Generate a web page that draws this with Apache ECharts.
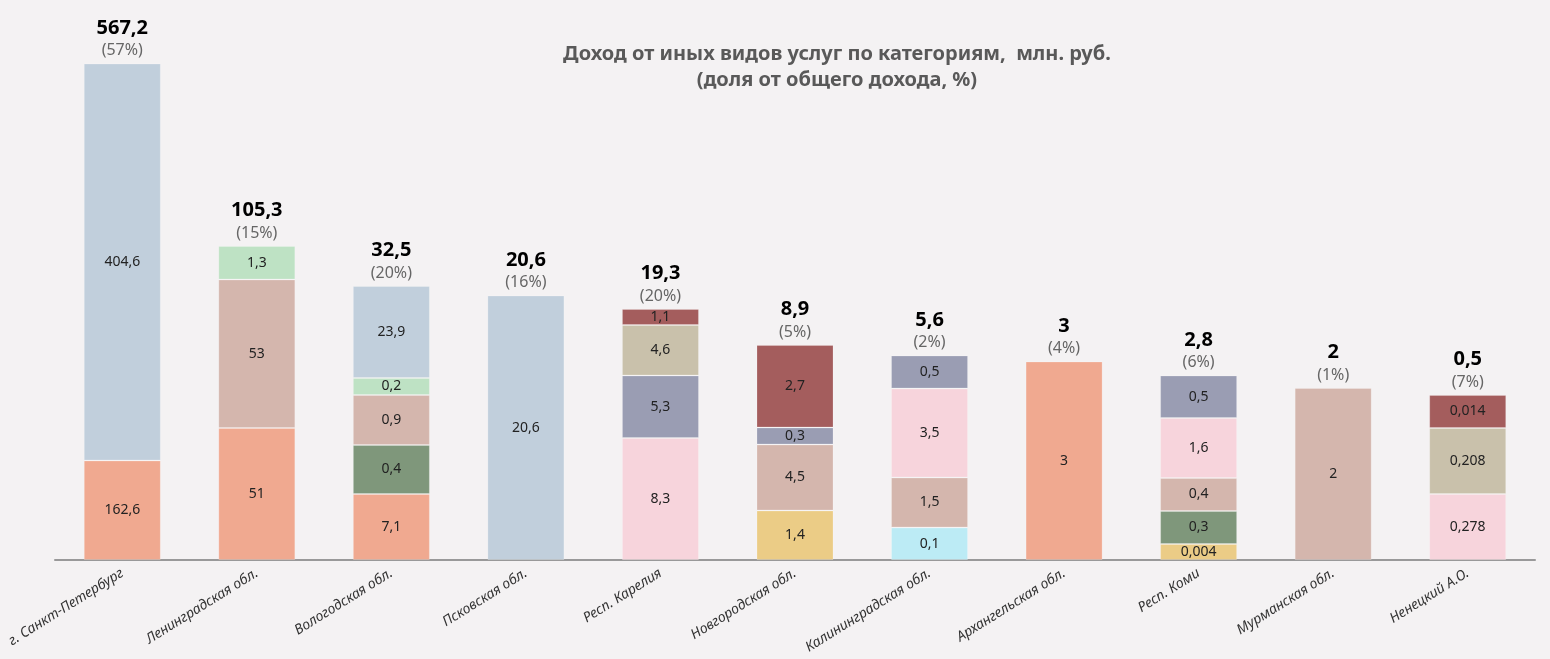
<!DOCTYPE html>
<html>
<head>
<meta charset="utf-8">
<script src="https://cdn.jsdelivr.net/npm/echarts@6/dist/echarts.min.js"></script>
<style>
  html, body { margin: 0; padding: 0; background: #f4f2f3; }
  #main { width: 1550px; height: 659px; }
</style>
</head>
<body>
<div id="main"></div>
<script>
// регионы
var regions = ['г. Санкт-Петербург', 'Ленинградская обл.', 'Вологодская обл.', 'Псковская обл.', 'Респ. Карелия',
  'Новгородская обл.', 'Калининградская обл.', 'Архангельская обл.', 'Респ. Коми', 'Мурманская обл.', 'Ненецкий А.О.'];
// итог, млн. руб. и доля от общего дохода, %
var totals = [567.2, 105.3, 32.5, 20.6, 19.3, 8.9, 5.6, 3, 2.8, 2, 0.5];
var shares = [57, 15, 20, 16, 20, 5, 2, 4, 6, 1, 7];

// подписи сегментов (млн. руб.), снизу вверх
var valYellow   = [null, null, null, null, null, 1.4, null, null, 0.004, null, null];
var valCyan     = [null, null, null, null, null, null, 0.1, null, null, null, null];
var valSalmon   = [162.6, 51, 7.1, null, null, null, null, 3, null, null, null];
var valDkGreen  = [null, null, 0.4, null, null, null, null, null, 0.3, null, null];
var valBeige    = [null, 53, 0.9, null, null, 4.5, 1.5, null, 0.4, 2, null];
var valPink     = [null, null, null, null, 8.3, null, 3.5, null, 1.6, null, 0.278];
var valLtGreen  = [null, 1.3, 0.2, null, null, null, null, null, null, null, null];
var valSlate    = [null, null, null, null, 5.3, 0.3, 0.5, null, 0.5, null, null];
var valKhaki    = [null, null, null, null, 4.6, null, null, null, null, null, 0.208];
var valBlueGray = [404.6, null, 23.9, 20.6, null, null, null, null, null, null, null];
var valDkRed    = [null, null, null, null, 1.1, 2.7, null, null, null, null, 0.014];

// высота сегментов на картинке (условные единицы, не пропорциональны подписям)
var hYellow   = [null, null, null, null, null, 49.5, null, null, 16, null, null];
var hCyan     = [null, null, null, null, null, null, 32.5, null, null, null, null];
var hSalmon   = [99.5, 132, 66, null, null, null, null, 198.5, null, null, null];
var hDkGreen  = [null, null, 49, null, null, null, null, null, 33, null, null];
var hBeige    = [null, 148.5, 50, null, null, 66, 50, null, 33, 172, null];
var hPink     = [null, null, null, null, 122, null, 89, null, 60, null, 66];
var hLtGreen  = [null, 33.5, 17, null, null, null, null, null, null, null, null];
var hSlate    = [null, null, null, null, 62.5, 17, 33, null, 42.5, null, null];
var hKhaki    = [null, null, null, null, 50.5, null, null, null, null, null, 66];
var hBlueGray = [397, null, 92, 264.5, null, null, null, null, null, null, null];
var hDkRed    = [null, null, null, null, 16, 82.5, null, null, null, null, 33];

var layers = [
  { v: valYellow, h: hYellow, color: '#ebcc86' },
  { v: valCyan, h: hCyan, color: '#bcebf5' },
  { v: valSalmon, h: hSalmon, color: '#f0a990' },
  { v: valDkGreen, h: hDkGreen, color: '#7f977b' },
  { v: valBeige, h: hBeige, color: '#d4b6ad' },
  { v: valPink, h: hPink, color: '#f7d4dc' },
  { v: valLtGreen, h: hLtGreen, color: '#bee2c4' },
  { v: valSlate, h: hSlate, color: '#9a9db3' },
  { v: valKhaki, h: hKhaki, color: '#c9c1ab' },
  { v: valBlueGray, h: hBlueGray, color: '#c1cfdc' },
  { v: valDkRed, h: hDkRed, color: '#a45d5d' }
];

function fmt(x) {
  return String(x).replace('.', ',');
}

var font = '"Noto Sans", sans-serif';
var series = [];
for (var i in layers) {
  var l = layers[i];
  series.push({
    type: 'bar',
    stack: 'all',
    barWidth: 77,
    itemStyle: { color: l.color, borderColor: 'rgba(255,255,255,0.2)', borderWidth: 1 },
    label: {
      show: true,
      position: 'inside',
      color: '#222',
      fontSize: 14,
      fontFamily: font,
      formatter: function(p) { return fmt(p.data.real); }
    },
    data: l.h.map(function(h, j) {
      return h == null ? null : { value: h, real: l.v[j] };
    })
  });
}

// верх столбца = сумма высот сегментов
var stackTop = regions.map(function(r, j) {
  var s = 0;
  for (var i in layers) {
    if (layers[i].h[j] != null) s += layers[i].h[j];
  }
  return s;
});

series.push({
  type: 'bar',
  barWidth: 77,
  barGap: '-100%',
  itemStyle: { color: 'rgba(0,0,0,0)' },
  silent: true,
  z: 1,
  label: {
    show: true,
    position: 'top',
    distance: 3,
    formatter: function(p) {
      return '{a|' + fmt(totals[p.dataIndex]) + '}\n{b|(' + shares[p.dataIndex] + '%)}';
    },
    rich: {
      a: { fontSize: 20, fontWeight: 'bold', color: '#000', fontFamily: font, lineHeight: 25 },
      b: { fontSize: 16, color: '#666', fontFamily: font, lineHeight: 20 }
    }
  },
  data: stackTop
});

var chart = echarts.init(document.getElementById('main'));
chart.setOption({
  backgroundColor: '#f4f2f3',
  animation: false,
  title: {
    text: 'Доход от иных видов услуг по категориям,  млн. руб.\n(доля от общего дохода, %)',
    left: 832,
    top: 36,
    textAlign: 'center',
    textStyle: {
      fontSize: 20,
      fontWeight: 'bold',
      color: '#595959',
      fontFamily: font,
      lineHeight: 26
    }
  },
  grid: { left: 55, right: 15, top: 60, bottom: 99 },
  xAxis: {
    type: 'category',
    data: regions,
    axisLine: { lineStyle: { color: '#999', width: 2 } },
    axisTick: { show: false },
    axisLabel: {
      rotate: 32,
      interval: 0,
      margin: 12,
      fontSize: 14,
      fontStyle: 'italic',
      color: '#333',
      fontFamily: font
    }
  },
  yAxis: {
    type: 'value',
    min: 0,
    max: 500,
    show: false,
    splitLine: { show: false }
  },
  series: series
});
</script>
</body>
</html>
